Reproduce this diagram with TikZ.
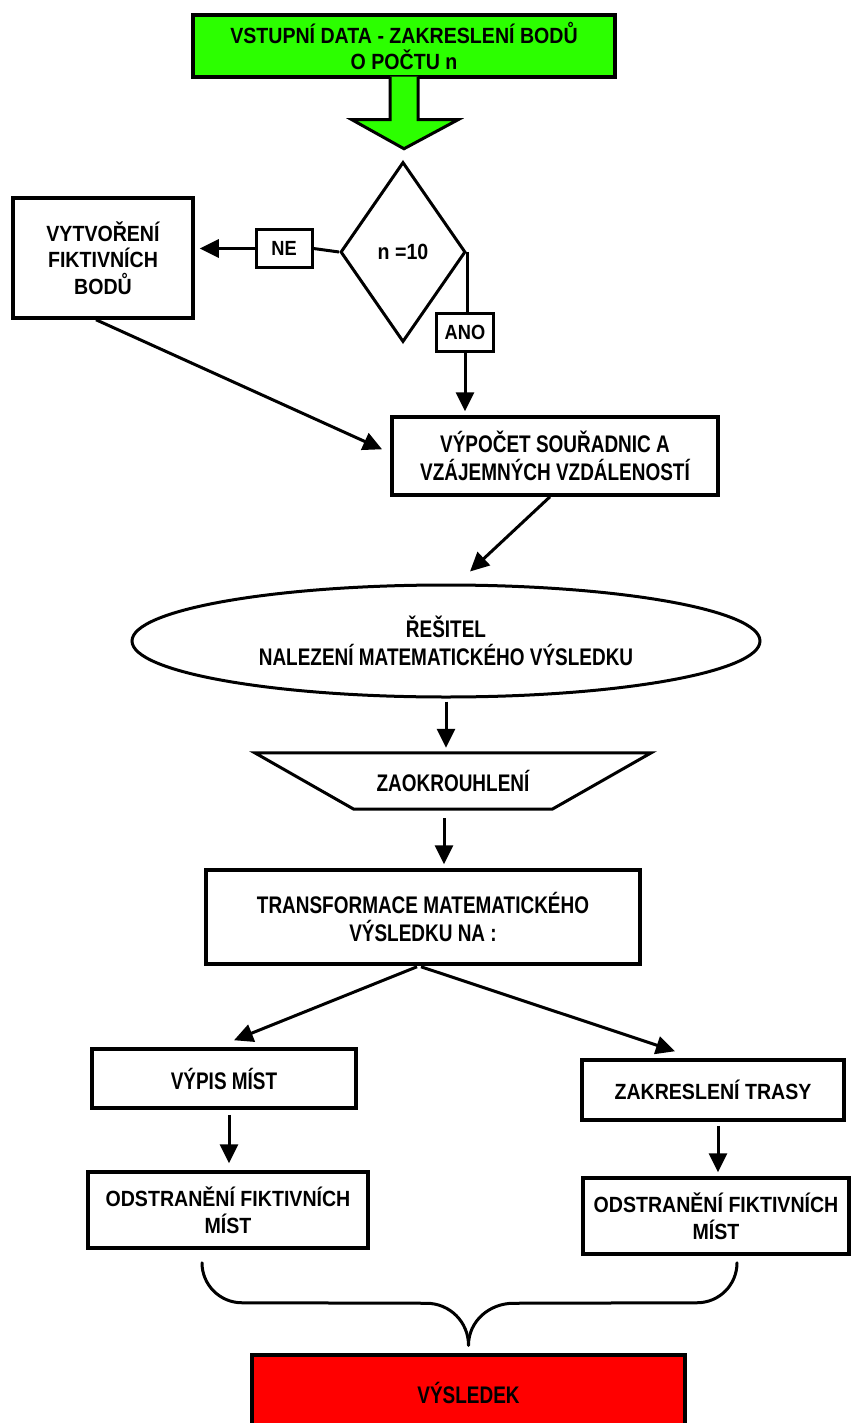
\documentclass[tikz,border=0pt]{standalone}
\usepackage{fontspec}
\setmainfont{Liberation Sans}
\newfontfamily\heavyfont{Liberation Sans}[FakeStretch=0.89]
\newfontfamily\narrowfont{Liberation Sans}[FakeStretch=0.79]
\usetikzlibrary{arrows.meta,shapes.geometric,calc}

\definecolor{startgreen}{RGB}{44,255,0}
\definecolor{resultred}{RGB}{255,0,0}

\tikzset{
  box/.style={draw, line width=3.5pt, fill=white, align=center, inner sep=0pt},
  heavy/.style={font=\heavyfont\bfseries\fontsize{22}{26.5}\selectfont},
  tag/.style={font=\heavyfont\bfseries\fontsize{20.5}{24}\selectfont},
  light/.style={font=\narrowfont\bfseries\fontsize{24}{27.5}\selectfont},
  flow/.style={line width=3pt, -{Triangle[length=19pt,width=18pt]}},
  link/.style={line width=3pt},
}

\begin{document}
\begin{tikzpicture}[x=1pt, y=-1pt]
\useasboundingbox (0,0) rectangle (853,1423);
\clip (0,0) rectangle (853,1423);

% input block and its wide arrow
\node[box, fill=startgreen, heavy, minimum width=422pt, minimum height=62pt] (start) at (404,46)
  {VSTUPNÍ DATA - ZAKRESLENÍ BODŮ\\O POČTU n};
\draw[line width=3pt, fill=startgreen, line join=miter]
  ([xshift=-14pt,yshift=2pt]start.south) -- ++(0,43) -- ++(-38,0) -- ++(52,29)
  -- ++(54,-29) -- ++(-40,0) -- ++(0,-43);

% decision
\node[draw, diamond, line width=3pt, fill=white, inner sep=0pt,
      minimum width=125pt, minimum height=180pt, heavy] (test) at (403,252) {n =10};
\node[box, tag, line width=3pt, minimum width=56pt, minimum height=37pt] (no) at (284,248.5) {NE};
\node[box, heavy, minimum width=180pt, minimum height=120pt] (fict) at (103,258)
  {VYTVOŘENÍ\\FIKTIVNÍCH\\BODŮ};
\node[box, tag, line width=3pt, minimum width=57pt, minimum height=38pt] (yes) at (465,332) {ANO};

% computation chain
\node[box, light, minimum width=326pt, minimum height=78pt] (coord) at (555,456)
  {VÝPOČET SOUŘADNIC A\\VZÁJEMNÝCH VZDÁLENOSTÍ};
\node[draw, ellipse, line width=3pt, light, align=center, inner sep=0pt,
      minimum width=628pt, minimum height=112pt] (solver) at (446,641)
  {ŘEŠITEL\\NALEZENÍ MATEMATICKÉHO VÝSLEDKU};
\node[light, minimum width=396pt, minimum height=56pt, inner sep=0pt] (round) at (453,781) {ZAOKROUHLENÍ};
\draw[line width=3pt, line join=miter]
  (round.north west) -- (round.north east) -- ([xshift=-99pt]round.south east)
  -- ([xshift=99pt]round.south west) -- cycle;
\node[box, light, minimum width=434pt, minimum height=94pt] (trans) at (423,917)
  {TRANSFORMACE MATEMATICKÉHO\\VÝSLEDKU NA :};

% two branches
\node[box, light, minimum width=264pt, minimum height=59pt] (list) at (224,1078.5) {VÝPIS MÍST};
\node[box, heavy, minimum width=262pt, minimum height=60pt] (route) at (713,1090) {ZAKRESLENÍ TRASY};
\node[box, heavy, minimum width=280pt, minimum height=76pt] (cleanA) at (228,1210)
  {ODSTRANĚNÍ FIKTIVNÍCH\\MÍST};
\node[box, heavy, minimum width=266pt, minimum height=76pt] (cleanB) at (716,1216)
  {ODSTRANĚNÍ FIKTIVNÍCH\\MÍST};

% final result
\node[box, fill=resultred, light, minimum width=433pt, minimum height=76pt] (result) at (468.5,1393) {VÝSLEDEK};

% connectors
\draw[link] (test.west) -- (no.east);
\draw[flow, shorten >=5pt] (no.west) -- (no.west -| fict.east);
\draw[link] (test.east) -- (test.east |- yes.north);
\draw[flow, shorten >=4pt] (yes.south) -- (yes.south |- coord.north);
\draw[flow, shorten >=9pt] ([xshift=-7pt]fict.south) -- ([yshift=3pt]coord.west);
\draw[flow] ([xshift=-5pt]coord.south) -- ([xshift=24pt,yshift=12pt]solver.north);
\draw[flow, shorten <=3pt, shorten >=5pt] (solver.south) -- (solver.south |- round.north);
\draw[flow, shorten <=9pt, shorten >=4pt] ([xshift=-9pt]round.south) -- ([xshift=-9pt]round.south |- trans.north);
\draw[flow] ([xshift=-6pt,yshift=-1pt]trans.south) -- ([xshift=10pt,yshift=7pt]list.north);
\draw[flow] ([xshift=-2pt,yshift=-1pt]trans.south) -- ([xshift=-38pt,yshift=7pt]route.north);
\draw[flow, shorten <=5pt, shorten >=7pt] ([xshift=5pt]list.south) -- ([xshift=5pt]list.south |- cleanA.north);
\draw[flow, shorten <=4pt, shorten >=4pt] ([xshift=5pt]route.south) -- ([xshift=5pt]route.south |- cleanB.north);

% brace joining both branches
\coordinate (braceL) at ([xshift=-26pt,yshift=-13pt]cleanA.south);
\coordinate (braceR) at ([xshift=21pt,yshift=-7pt]cleanB.south);
\coordinate (braceTip) at ([yshift=8pt]result.north);
\draw[link, line cap=round]
  (braceL) to[out=-90,in=180] ($(braceL)+(40,40)$) -- ($(braceTip)+(-42,-42)$)
  to[out=0,in=90] (braceTip);
\draw[link, line cap=round]
  (braceR) to[out=-90,in=0] ($(braceR)+(-40,40)$) -- ($(braceTip)+(45,-42)$)
  to[out=180,in=90] (braceTip);
\end{tikzpicture}
\end{document}
